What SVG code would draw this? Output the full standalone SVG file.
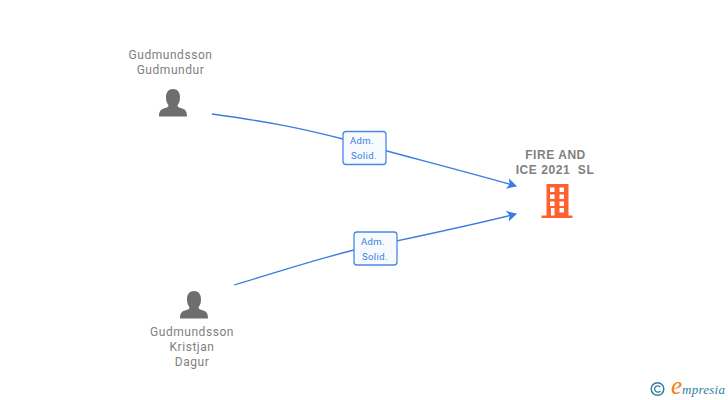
<svg xmlns="http://www.w3.org/2000/svg" width="728" height="400" viewBox="0 0 728 400">
<style>
text{font-family:Roboto,"Liberation Sans",Arial,sans-serif}
.n{font-size:12px;fill:#808080;text-anchor:middle;letter-spacing:.55px}
.c{font-size:12px;fill:#808080;text-anchor:middle;font-weight:bold;font-family:"Liberation Sans",Arial,sans-serif;letter-spacing:.55px}
.l{font-size:9.500px;fill:#3a7de0;text-anchor:middle;letter-spacing:.45px}
.e{fill:none;stroke:#3a7de0;stroke-width:1.300;marker-end:url(#a)}
.b{fill:#f7fafe;stroke:#4a88e4;stroke-width:1.300}
.p{fill:#6e6e6e}
.w{fill:#fff}
</style>
<defs>
<marker id="a" markerUnits="userSpaceOnUse" markerWidth="12" markerHeight="14" refX="9" refY="6" orient="auto"><path d="M0 0.500L10 6L0 11.500L2.500 6Z" fill="#3a7de0"/></marker>
<path id="u" d="M-14 14.500C-14 9.500-12.500 7.500-8.500 6.300C-6 5.600-4.500 4.800-4.500 3.200C-6 1.500-7 -1-7 -4.500C-7 -10-4.500 -13 0 -13C4.500 -13 7 -10 7 -4.500C7 -1 6 1.500 4.500 3.200C4.500 4.800 6 5.600 8.500 6.300C12.500 7.500 14 9.500 14 14.500Z"/>
</defs>
<g id="connectors">
<path class="e" d="M212 114C270 122 300 128 343 139C400 155 460 170 516 186"/>
<path class="e" d="M234 285C275 273 310 261 354 250C410 238 460 228 516 214"/>
</g>
<g id="edge-label-1"><rect class="b" x="343" y="131.500" width="43" height="33" rx="3"/><text class="l" x="362" y="144">Adm.</text><text class="l" x="364" y="159">Solid.</text></g>
<g id="edge-label-2"><rect class="b" x="354" y="232" width="43" height="33" rx="3"/><text class="l" x="373" y="245">Adm.</text><text class="l" x="375" y="260">Solid.</text></g>
<g id="person-gudmundur"><text class="n" x="170.500" y="59">Gudmundsson</text><text class="n" x="170.500" y="74">Gudmundur</text><use class="p" href="#u" x="173" y="102"/></g>
<g id="person-kristjan"><text class="n" x="192" y="336">Gudmundsson</text><text class="n" x="192" y="351">Kristjan</text><text class="n" x="192" y="366">Dagur</text><use class="p" href="#u" x="194" y="304"/></g>
<g id="company"><text class="c" x="555.500" y="159">FIRE AND</text><text class="c" x="555" y="174" xml:space="preserve">ICE 2021  SL</text>
<path fill="#ff6030" d="M546.500 184H568.500V215.500H572.500V218H541.500V215.500H546.500Z"/>
<path class="w" d="M550 187.500h4.500v4.500h-4.500zM559.500 187.500h4.500v4.500h-4.500zM550 194.500h4.500v4.500h-4.500zM559.500 194.500h4.500v4.500h-4.500zM550 201.500h4.500v4.500h-4.500zM559.500 201.500h4.500v4.500h-4.500zM551 208h3.500v7.500h-3.500zM559.500 208h4.500v4.500h-4.500z"/></g>
<g id="watermark"><circle cx="657.500" cy="389" r="6.300" fill="none" stroke="#2f7f9f" stroke-width="1.500"/><path d="M660.300 387A3.200 3.200 0 1 0 660.300 391" fill="none" stroke="#2f7f9f" stroke-width="1.300"/>
<text x="671" y="394" font-size="25" font-style="italic" fill="#f08010" style="font-family:'Liberation Serif',serif">e</text>
<text x="682" y="394" font-size="13" font-style="italic" fill="#2f7f9f" textLength="43" lengthAdjust="spacing" style="font-family:'Liberation Serif',serif">mpresia</text></g>
</svg>
